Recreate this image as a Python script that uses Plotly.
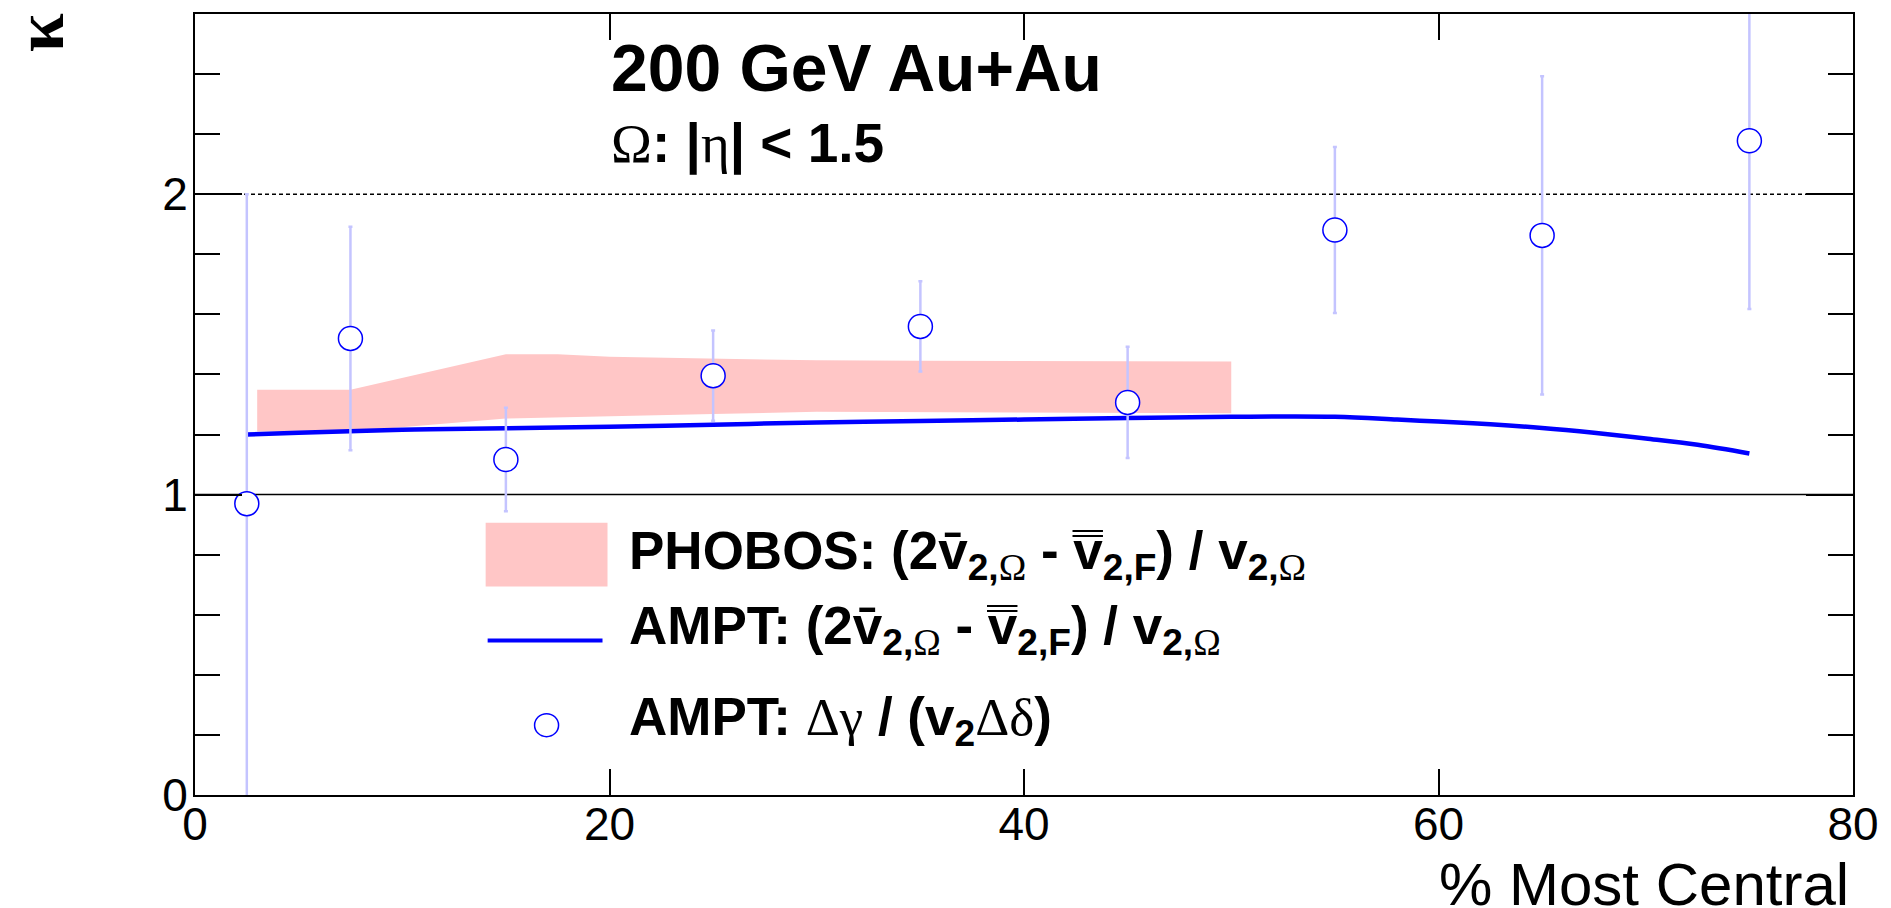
import plotly.graph_objects as go

# ---------------- data ----------------
cent = [2.5, 7.5, 15, 25, 35, 45, 55, 65, 75]
kappa = [0.970, 1.520, 1.117, 1.396, 1.560, 1.307, 1.881, 1.863, 2.178]
kappa_err = [1.03, 0.372, 0.172, 0.150, 0.150, 0.185, 0.276, 0.530, 0.560]

ampt_x = [2.5, 5, 10, 15, 20, 25, 30, 35, 40, 45, 50, 55, 58, 60, 62.5, 65, 67.5, 70, 72.5, 75]
ampt_y = [1.200, 1.206, 1.216, 1.221, 1.226, 1.233, 1.240, 1.245, 1.250, 1.255, 1.259, 1.259,
          1.250, 1.243, 1.234, 1.222, 1.206, 1.187, 1.166, 1.137]

phobos_x = [3, 7.5, 15, 17.5, 20, 25, 30, 35, 40, 45, 50]
phobos_hi = [1.349, 1.349, 1.467, 1.467, 1.459, 1.452, 1.447, 1.446, 1.445, 1.444, 1.443]
phobos_lo = [1.210, 1.210, 1.253, 1.256, 1.260, 1.268, 1.276, 1.276, 1.274, 1.272, 1.271]

x_ticks = [0, 20, 40, 60, 80]
y_ticks = [0, 1, 2]
ref_solid = 1.0
ref_dashed = 2.0

# ---------------- geometry helpers ----------------
W, H = 1891, 908
ML, MR, MT, MB = 195, 36, 12, 113
PW, PH = W - ML - MR, H - MT - MB


def px(xp):
    return (xp - ML) / PW


def py(yp):
    return (H - MB - yp) / PH


BLUE = "#0000ff"
PINK = "#ffc6c6"
ERR = "#c4c4ff"
SANS = "Liberation Sans, Arial, sans-serif"
SERIF = "Liberation Serif, Times New Roman, serif"

fig = go.Figure()

# PHOBOS band
fig.add_trace(go.Scatter(
    x=phobos_x + phobos_x[::-1],
    y=phobos_hi + phobos_lo[::-1],
    fill="toself", fillcolor=PINK, line=dict(width=0), mode="lines",
    hoverinfo="skip", showlegend=False))

# AMPT line
fig.add_trace(go.Scatter(
    x=ampt_x, y=ampt_y, mode="lines", line=dict(color=BLUE, width=4.5, shape="spline"),
    showlegend=False))

# AMPT points
fig.add_trace(go.Scatter(
    x=cent, y=kappa, mode="markers",
    marker=dict(symbol="circle", size=24, color="white", line=dict(color=BLUE, width=1.5)),
    error_y=dict(type="data", array=kappa_err, color=ERR, thickness=2.5, width=2),
    showlegend=False))

tickfont = dict(family=SANS, size=46, color="black")
fig.update_xaxes(range=[0, 80], tickvals=x_ticks, ticks="inside", ticklen=26, tickwidth=1.5,
                 tickcolor="black", showline=True, linewidth=2, linecolor="black", mirror="ticks",
                 showgrid=False, zeroline=False, tickfont=tickfont, ticklabelstandoff=-12)
fig.update_yaxes(range=[0, 2.6], tickvals=y_ticks, ticks="inside", ticklen=47, tickwidth=1.5,
                 tickcolor="black", showline=True, linewidth=2, linecolor="black", mirror="ticks",
                 showgrid=False, zeroline=False, tickfont=tickfont, ticklabelstandoff=-4,
                 minor=dict(dtick=0.2, tick0=0, ticks="inside", ticklen=25, tickwidth=1.5,
                            tickcolor="black", showgrid=False))

shapes = [
    dict(type="line", xref="paper", x0=0, x1=1, yref="y", y0=ref_solid, y1=ref_solid,
         line=dict(color="black", width=1.5), layer="below"),
    dict(type="line", xref="paper", x0=0, x1=1, yref="y", y0=ref_dashed, y1=ref_dashed,
         line=dict(color="black", width=1.5, dash="4px,3px"), layer="below"),
    # legend symbols
    dict(type="rect", xref="paper", yref="paper", x0=px(486), x1=px(608), y0=py(586), y1=py(522),
         fillcolor=PINK, line=dict(width=0)),
    dict(type="line", xref="paper", yref="paper", x0=px(488), x1=px(603), y0=py(640), y1=py(640),
         line=dict(color=BLUE, width=4)),
    dict(type="circle", xref="paper", yref="paper", xsizemode="pixel", ysizemode="pixel",
         xanchor=px(547), yanchor=py(725), x0=-12, x1=12, y0=-11.5, y1=11.5,
         fillcolor="white", line=dict(color=BLUE, width=1.5)),
]

ann = []


def add_text(text, xp, yp, size, family=SANS, xanchor="left", yanchor="middle", angle=0):
    ann.append(dict(text=text, xref="paper", yref="paper", x=px(xp), y=py(yp), xanchor=xanchor,
                    yanchor=yanchor, showarrow=False, textangle=angle,
                    font=dict(family=family, size=size, color="black")))


def sf(s):
    return f"<span style='font-family:{SERIF};font-weight:normal'>{s}</span>"


add_text("<b>200 GeV Au+Au</b>", 609, 66, 66)
add_text(sf("Ω") + "<b>: </b>" + "<b>|</b>" + sf("η") + "<b>| &lt; 1.5</b>", 609, 142, 55)

vbar = "v\u0304"
vbb = "v\u033f"
leg1 = (f"<b>PHOBOS: (2{vbar}<sub>2,</sub></b><sub>{sf('Ω')}</sub><b> - {vbb}<sub>2,F</sub>) / v<sub>2,</sub></b>"
        f"<sub>{sf('Ω')}</sub>")
leg2 = (f"<b>AMPT: (2{vbar}<sub>2,</sub></b><sub>{sf('Ω')}</sub><b> - {vbb}<sub>2,F</sub>) / v<sub>2,</sub></b>"
        f"<sub>{sf('Ω')}</sub>")
leg3 = "<b>AMPT:</b> " + sf("Δγ") + "<b> / (v<sub>2</sub></b>" + sf("Δδ") + "<b>)</b>"
add_text(leg1, 628, 554, 53)
add_text(leg2, 628, 629, 53)
add_text(leg3, 628, 720, 53)

add_text("% Most Central", 1853, 885, 60, xanchor="right")
add_text("<b>κ</b>", 40, 31, 70, family=SERIF, xanchor="center", angle=-90)

fig.update_layout(width=W, height=H, margin=dict(l=ML, r=MR, t=MT, b=MB),
                  plot_bgcolor="white", paper_bgcolor="white", shapes=shapes, annotations=ann,
                  showlegend=False)

fig.write_html("out.html", config={"displayModeBar": False},
               post_script="document.body.style.margin='0px';")
